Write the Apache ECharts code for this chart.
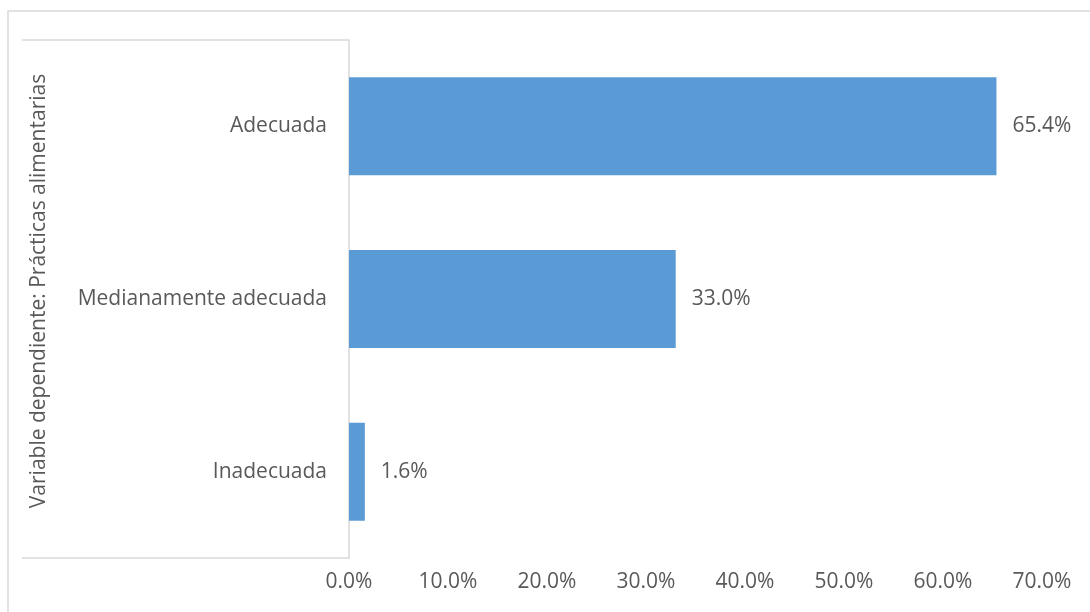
<!DOCTYPE html>
<html>
<head>
<meta charset="utf-8">
<style>
  html, body { margin: 0; padding: 0; background: #fff; }
  #chart { width: 1090px; height: 612px; }
</style>
<script src="https://cdn.jsdelivr.net/npm/echarts@6/dist/echarts.min.js"></script>
</head>
<body>
<div id="chart"></div>
<script>
// categorias (de arriba hacia abajo)
const categorias = ['Adecuada', 'Medianamente adecuada', 'Inadecuada'];
// porcentajes
const valores = [65.4, 33.0, 1.6];
const tituloEje = 'Variable dependiente: Prácticas alimentarias';

const textColor = '#595959';
const lineColor = '#D9D9D9';
const fuente = '"Open Sans", sans-serif';

const chart = echarts.init(document.getElementById('chart'));

chart.setOption({
  animation: false,
  grid: { left: 349, right: 48, top: 40, bottom: 54 },
  xAxis: {
    type: 'value',
    min: 0,
    max: 70,
    interval: 10,
    axisLine: { show: false },
    axisTick: { show: false },
    splitLine: { show: false },
    axisLabel: {
      color: textColor,
      fontFamily: fuente,
      fontSize: 21,
      margin: 14,
      formatter: v => v.toFixed(1) + '%'
    }
  },
  yAxis: {
    type: 'category',
    data: categorias,
    inverse: true,
    axisLine: { show: true, lineStyle: { color: lineColor, width: 1.5 } },
    axisTick: { show: false },
    axisLabel: {
      color: textColor,
      fontFamily: fuente,
      fontSize: 21,
      margin: 22
    }
  },
  series: [{
    type: 'bar',
    data: valores,
    barWidth: 98,
    itemStyle: { color: '#5B9BD5' },
    label: {
      show: true,
      position: 'right',
      distance: 16,
      color: textColor,
      fontFamily: fuente,
      fontSize: 21,
      formatter: p => p.value.toFixed(1) + '%'
    }
  }],
  graphic: [
    // marco exterior
    { type: 'rect', shape: { x: 8, y: 11, width: 1200, height: 800 },
      style: { fill: 'none', stroke: lineColor, lineWidth: 1.5 }, silent: true },
    // caja del eje de categorias
    { type: 'line', shape: { x1: 22, y1: 40, x2: 349, y2: 40 },
      style: { stroke: lineColor, lineWidth: 1.5 }, silent: true },
    { type: 'line', shape: { x1: 22, y1: 558, x2: 349, y2: 558 },
      style: { stroke: lineColor, lineWidth: 1.5 }, silent: true },
    {
      type: 'text',
      x: 39,
      y: 291,
      rotation: Math.PI / 2,
      style: {
        text: tituloEje,
        fill: textColor,
        font: '21px "Open Sans", sans-serif',
        textAlign: 'center',
        textVerticalAlign: 'middle'
      }
    }
  ]
});
</script>
</body>
</html>
